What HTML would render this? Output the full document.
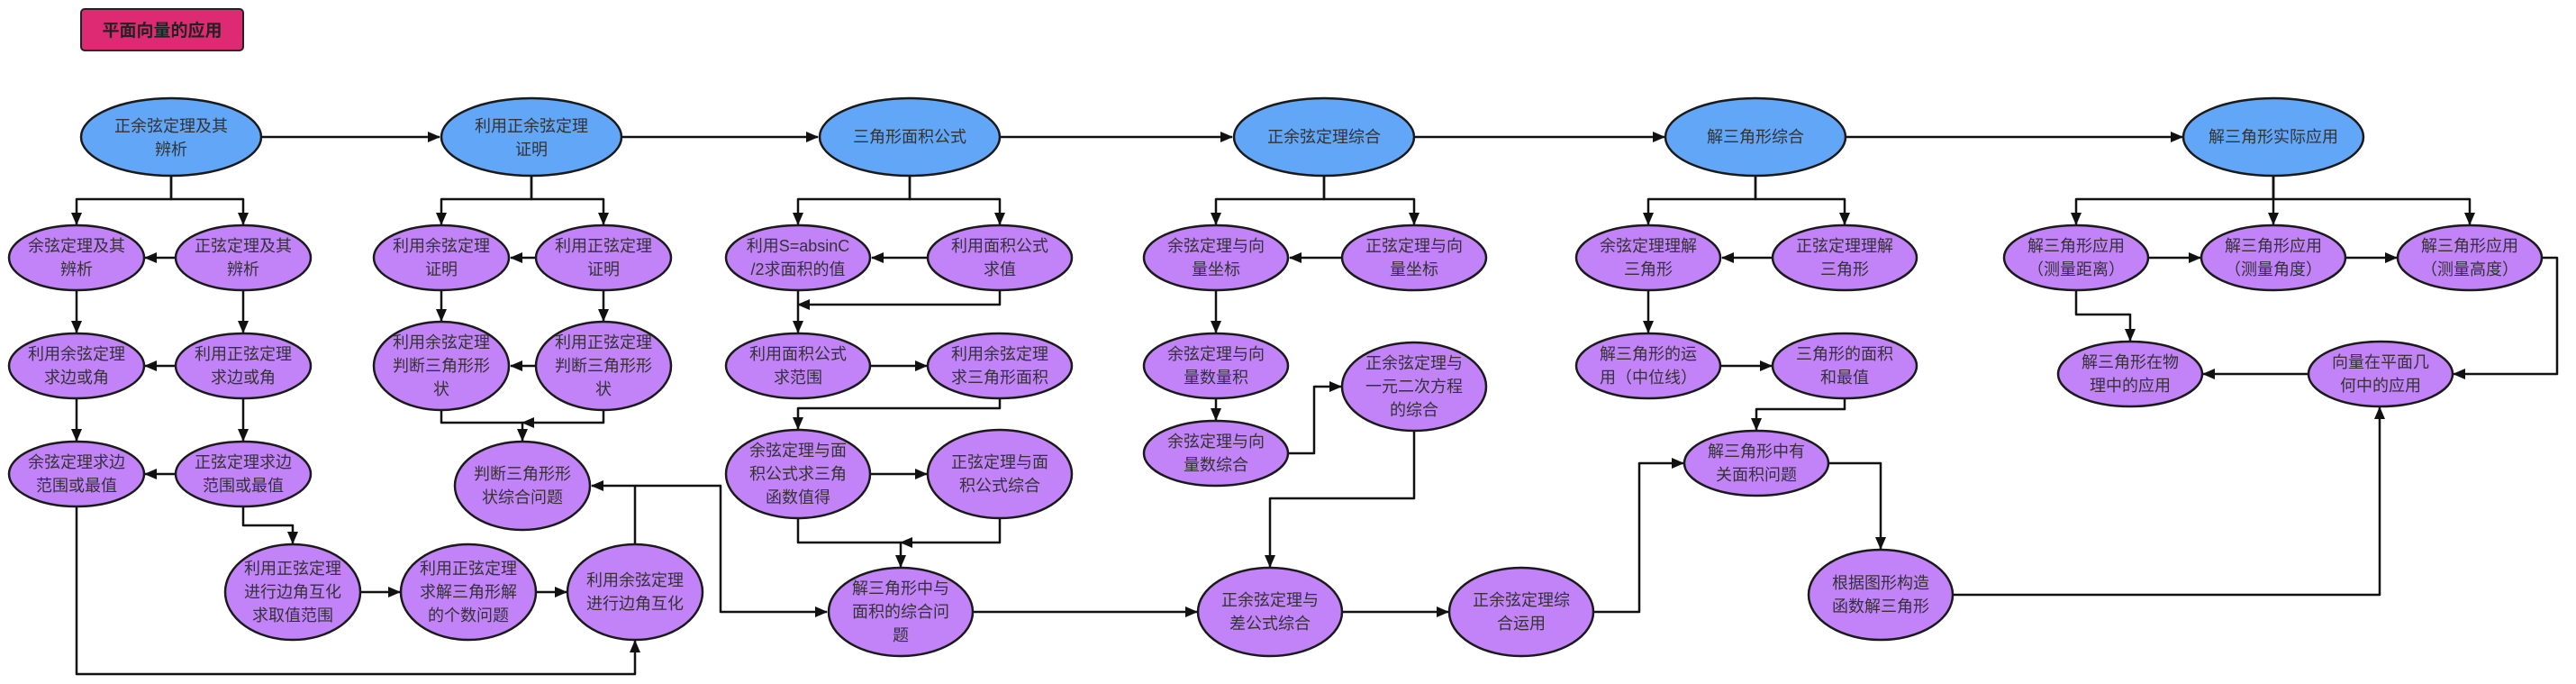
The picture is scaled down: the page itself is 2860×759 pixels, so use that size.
<!DOCTYPE html>
<html><head><meta charset="utf-8"><style>
html,body{margin:0;padding:0;background:#fff;width:2860px;height:759px;overflow:hidden}
text{font-family:"Liberation Sans","Noto Sans CJK SC",sans-serif;font-size:18px;fill:#333;text-anchor:middle}
.e{stroke:#1a1a1a;stroke-width:2.5}
.p{fill:#c283f8}.b{fill:#62a6f7}
.l{fill:none;stroke:#111;stroke-width:2.5;stroke-linejoin:round}
</style></head><body>
<svg width="2860" height="759" xmlns="http://www.w3.org/2000/svg">
<defs><marker id="a" markerUnits="userSpaceOnUse" markerWidth="14" markerHeight="12" refX="13" refY="6" orient="auto"><path d="M0,0 L14,6 L0,12 z" fill="#111"/></marker></defs>
<rect x="90" y="10" width="180" height="46" rx="4" fill="#de2a72" stroke="#222" stroke-width="2"/>
<text x="180" y="40" style="font-weight:bold;font-size:19px;fill:#222">平面向量的应用</text>

<g class="l" marker-end="url(#a)">
<path d="M290,152 H488"/><path d="M690,152 H908"/><path d="M1110,152 H1368"/><path d="M1570,152 H1848"/><path d="M2049,152 H2423"/>
<!-- col1 -->
<path d="M190,195 V221 H85 V249"/><path d="M190,195 V221 H270 V249"/>
<path d="M195,286 H161"/><path d="M85,322 V369"/><path d="M270,322 V369"/>
<path d="M195,406 H161"/><path d="M85,442 V489"/><path d="M270,442 V489"/>
<path d="M195,526 H161"/>
<path d="M270,562 V583 H325 V603"/>
<path d="M400,657 H444"/><path d="M595,657 H629"/>
<path d="M85,562 V748 H705 V711"/>
<path d="M705,604 V539 H657"/>
<path d="M705,539 H800 V679 H918"/>
<!-- col2 -->
<path d="M590,195 V221 H490 V249"/><path d="M590,195 V221 H670 V249"/>
<path d="M595,286 H567"/><path d="M490,322 V356"/><path d="M670,322 V356"/>
<path d="M595,406 H567"/>
<path d="M490,455 V469 H580 V489"/><path d="M670,455 V469 H580"/>
<!-- col3 -->
<path d="M1010,195 V221 H886 V249"/><path d="M1010,195 V221 H1110 V249"/>
<path d="M1030,286 H968"/>
<path d="M886,322 V369"/><path d="M1110,322 V338 H886"/>
<path d="M966,406 H1029"/>
<path d="M1110,442 V453 H886 V476"/>
<path d="M966,526 H1029"/>
<path d="M886,575 V602 H1000 V629"/><path d="M1110,575 V602 H1000"/>
<path d="M1080,679 H1329"/>
<!-- col4 -->
<path d="M1470,195 V221 H1350 V249"/><path d="M1470,195 V221 H1570 V249"/>
<path d="M1490,286 H1432"/><path d="M1350,322 V369"/><path d="M1350,442 V466"/>
<path d="M1430,503 H1459 V429 H1489"/>
<path d="M1570,478 V553 H1410 V629"/>
<path d="M1490,679 H1608"/>
<path d="M1769,679 H1820 V514 H1869"/>
<!-- col5 -->
<path d="M1949,195 V221 H1830 V249"/><path d="M1949,195 V221 H2048 V249"/>
<path d="M1968,286 H1912"/><path d="M1830,322 V369"/><path d="M1910,406 H1967"/>
<path d="M2048,442 V454 H1950 V477"/>
<path d="M2030,514 H2088 V609"/>
<path d="M2168,660 H2642 V452"/>
<!-- col6 -->
<path d="M2524,195 V221 H2305 V249"/><path d="M2524,195 V249"/><path d="M2524,195 V221 H2742 V249"/>
<path d="M2385,286 H2443"/><path d="M2604,286 H2661"/>
<path d="M2305,322 V349 H2365 V378"/>
<path d="M2822,286 H2839 V415 H2724"/>
<path d="M2563,415 H2446"/>
</g>

<g class="e b">
<ellipse cx="190" cy="152" rx="100" ry="43"/><ellipse cx="590" cy="152" rx="100" ry="43"/><ellipse cx="1010" cy="152" rx="100" ry="43"/><ellipse cx="1470" cy="152" rx="100" ry="43"/><ellipse cx="1949" cy="152" rx="100" ry="43"/><ellipse cx="2524" cy="152" rx="100" ry="43"/>
</g>
<text x="190" y="146">正余弦定理及其</text><text x="190" y="172">辨析</text>
<text x="590" y="146">利用正余弦定理</text><text x="590" y="172">证明</text>
<text x="1010" y="158">三角形面积公式</text>
<text x="1470" y="158">正余弦定理综合</text>
<text x="1949" y="158">解三角形综合</text>
<text x="2524" y="158">解三角形实际应用</text>

<g class="e p">
<ellipse cx="85" cy="286" rx="75" ry="36"/><ellipse cx="270" cy="286" rx="75" ry="36"/>
<ellipse cx="85" cy="406" rx="75" ry="36"/><ellipse cx="270" cy="406" rx="75" ry="36"/>
<ellipse cx="85" cy="526" rx="75" ry="36"/><ellipse cx="270" cy="526" rx="75" ry="36"/>
<ellipse cx="325" cy="657" rx="75" ry="53"/><ellipse cx="520" cy="657" rx="75" ry="53"/><ellipse cx="705" cy="657" rx="75" ry="53"/>
<ellipse cx="490" cy="286" rx="75" ry="36"/><ellipse cx="670" cy="286" rx="75" ry="36"/>
<ellipse cx="490" cy="406" rx="75" ry="49"/><ellipse cx="670" cy="406" rx="75" ry="49"/>
<ellipse cx="580" cy="539" rx="75" ry="49"/>
<ellipse cx="886" cy="286" rx="80" ry="36"/><ellipse cx="1110" cy="286" rx="80" ry="36"/>
<ellipse cx="886" cy="406" rx="80" ry="36"/><ellipse cx="1110" cy="406" rx="80" ry="36"/>
<ellipse cx="886" cy="526" rx="80" ry="49"/><ellipse cx="1110" cy="526" rx="80" ry="49"/>
<ellipse cx="1000" cy="679" rx="80" ry="49"/>
<ellipse cx="1350" cy="286" rx="80" ry="36"/><ellipse cx="1570" cy="286" rx="80" ry="36"/>
<ellipse cx="1350" cy="406" rx="80" ry="36"/><ellipse cx="1350" cy="503" rx="80" ry="36"/>
<ellipse cx="1570" cy="429" rx="80" ry="49"/>
<ellipse cx="1410" cy="679" rx="80" ry="49"/><ellipse cx="1689" cy="679" rx="80" ry="49"/>
<ellipse cx="1830" cy="286" rx="80" ry="36"/><ellipse cx="2048" cy="286" rx="80" ry="36"/>
<ellipse cx="1830" cy="406" rx="80" ry="36"/><ellipse cx="2048" cy="406" rx="80" ry="36"/>
<ellipse cx="1950" cy="514" rx="80" ry="36"/>
<ellipse cx="2088" cy="660" rx="80" ry="50"/>
<ellipse cx="2305" cy="286" rx="80" ry="36"/><ellipse cx="2524" cy="286" rx="80" ry="36"/><ellipse cx="2742" cy="286" rx="80" ry="36"/>
<ellipse cx="2365" cy="415" rx="80" ry="36"/><ellipse cx="2643" cy="415" rx="80" ry="36"/>
</g>

<text x="85" y="279">余弦定理及其</text><text x="85" y="305">辨析</text>
<text x="270" y="279">正弦定理及其</text><text x="270" y="305">辨析</text>
<text x="85" y="399">利用余弦定理</text><text x="85" y="425">求边或角</text>
<text x="270" y="399">利用正弦定理</text><text x="270" y="425">求边或角</text>
<text x="85" y="519">余弦定理求边</text><text x="85" y="545">范围或最值</text>
<text x="270" y="519">正弦定理求边</text><text x="270" y="545">范围或最值</text>
<text x="325" y="637">利用正弦定理</text><text x="325" y="663">进行边角互化</text><text x="325" y="689">求取值范围</text>
<text x="520" y="637">利用正弦定理</text><text x="520" y="663">求解三角形解</text><text x="520" y="689">的个数问题</text>
<text x="705" y="650">利用余弦定理</text><text x="705" y="676">进行边角互化</text>
<text x="490" y="279">利用余弦定理</text><text x="490" y="305">证明</text>
<text x="670" y="279">利用正弦定理</text><text x="670" y="305">证明</text>
<text x="490" y="386">利用余弦定理</text><text x="490" y="412">判断三角形形</text><text x="490" y="438">状</text>
<text x="670" y="386">利用正弦定理</text><text x="670" y="412">判断三角形形</text><text x="670" y="438">状</text>
<text x="580" y="532">判断三角形形</text><text x="580" y="558">状综合问题</text>
<text x="886" y="279">利用S=absinC</text><text x="886" y="305">/2求面积的值</text>
<text x="1110" y="279">利用面积公式</text><text x="1110" y="305">求值</text>
<text x="886" y="399">利用面积公式</text><text x="886" y="425">求范围</text>
<text x="1110" y="399">利用余弦定理</text><text x="1110" y="425">求三角形面积</text>
<text x="886" y="506">余弦定理与面</text><text x="886" y="532">积公式求三角</text><text x="886" y="558">函数值得</text>
<text x="1110" y="519">正弦定理与面</text><text x="1110" y="545">积公式综合</text>
<text x="1000" y="659">解三角形中与</text><text x="1000" y="685">面积的综合问</text><text x="1000" y="711">题</text>
<text x="1350" y="279">余弦定理与向</text><text x="1350" y="305">量坐标</text>
<text x="1570" y="279">正弦定理与向</text><text x="1570" y="305">量坐标</text>
<text x="1350" y="399">余弦定理与向</text><text x="1350" y="425">量数量积</text>
<text x="1350" y="496">余弦定理与向</text><text x="1350" y="522">量数综合</text>
<text x="1570" y="409">正余弦定理与</text><text x="1570" y="435">一元二次方程</text><text x="1570" y="461">的综合</text>
<text x="1410" y="672">正余弦定理与</text><text x="1410" y="698">差公式综合</text>
<text x="1689" y="672">正余弦定理综</text><text x="1689" y="698">合运用</text>
<text x="1830" y="279">余弦定理理解</text><text x="1830" y="305">三角形</text>
<text x="2048" y="279">正弦定理理解</text><text x="2048" y="305">三角形</text>
<text x="1830" y="399">解三角形的运</text><text x="1830" y="425">用（中位线）</text>
<text x="2048" y="399">三角形的面积</text><text x="2048" y="425">和最值</text>
<text x="1950" y="507">解三角形中有</text><text x="1950" y="533">关面积问题</text>
<text x="2088" y="653">根据图形构造</text><text x="2088" y="679">函数解三角形</text>
<text x="2305" y="279">解三角形应用</text><text x="2305" y="305">（测量距离）</text>
<text x="2524" y="279">解三角形应用</text><text x="2524" y="305">（测量角度）</text>
<text x="2742" y="279">解三角形应用</text><text x="2742" y="305">（测量高度）</text>
<text x="2365" y="408">解三角形在物</text><text x="2365" y="434">理中的应用</text>
<text x="2643" y="408">向量在平面几</text><text x="2643" y="434">何中的应用</text>
</svg>
</body></html>
